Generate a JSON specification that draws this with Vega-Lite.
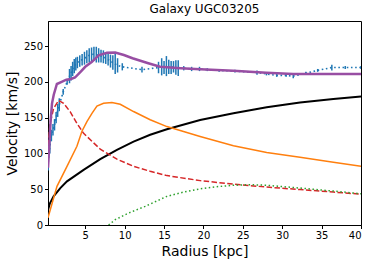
{
  "$schema": "https://vega.github.io/schema/vega-lite/v6.json",
  "width": 313,
  "height": 204,
  "autosize": {"type": "none"},
  "padding": {"left": 48, "top": 21, "right": 13, "bottom": 39},
  "background": "white",
  "title": {"text": "Galaxy UGC03205", "font": "DejaVu Sans", "fontSize": 12, "fontWeight": "normal", "color": "black", "offset": 5},
  "config": {
    "view": {"stroke": "black", "strokeWidth": 1},
    "axis": {
      "labelFont": "DejaVu Sans", "labelFontSize": 10, "labelColor": "black",
      "titleFont": "DejaVu Sans", "titleFontSize": 14, "titleFontWeight": "normal", "titleColor": "black",
      "tickColor": "black", "domainColor": "black", "grid": false, "tickSize": 3.5, "labelPadding": 2
    }
  },
  "datasets": {
    "obs": [
      {"r": 0.3, "v": 88, "e": 12}, {"r": 0.5, "v": 110, "e": 10}, {"r": 0.7, "v": 125, "e": 8},
      {"r": 0.9, "v": 133, "e": 8}, {"r": 1.1, "v": 140, "e": 8}, {"r": 1.3, "v": 150, "e": 8},
      {"r": 1.5, "v": 160, "e": 9}, {"r": 1.7, "v": 168, "e": 9}, {"r": 2.2, "v": 186, "e": 4},
      {"r": 2.7, "v": 200, "e": 4}, {"r": 3.0, "v": 208, "e": 10}, {"r": 3.2, "v": 212, "e": 10},
      {"r": 3.4, "v": 218, "e": 10}, {"r": 3.6, "v": 222, "e": 10}, {"r": 3.8, "v": 225, "e": 9},
      {"r": 4.0, "v": 227, "e": 8}, {"r": 4.3, "v": 229, "e": 8}, {"r": 4.6, "v": 231, "e": 8},
      {"r": 4.9, "v": 233, "e": 9}, {"r": 5.2, "v": 235, "e": 9}, {"r": 5.5, "v": 237, "e": 10},
      {"r": 5.8, "v": 238, "e": 10}, {"r": 6.1, "v": 239, "e": 10}, {"r": 6.4, "v": 238, "e": 11},
      {"r": 6.7, "v": 237, "e": 10}, {"r": 7.0, "v": 236, "e": 9}, {"r": 7.3, "v": 235, "e": 9},
      {"r": 7.6, "v": 233, "e": 8}, {"r": 7.9, "v": 231, "e": 8}, {"r": 8.2, "v": 229, "e": 9},
      {"r": 8.5, "v": 227, "e": 10}, {"r": 8.8, "v": 225, "e": 14}, {"r": 9.1, "v": 223, "e": 10},
      {"r": 9.7, "v": 221, "e": 5}, {"r": 12.2, "v": 217, "e": 4}, {"r": 14.3, "v": 220, "e": 8},
      {"r": 14.7, "v": 221, "e": 12}, {"r": 15.0, "v": 220, "e": 9}, {"r": 15.3, "v": 222, "e": 14},
      {"r": 15.6, "v": 221, "e": 10}, {"r": 15.9, "v": 220, "e": 9}, {"r": 16.2, "v": 221, "e": 8},
      {"r": 16.5, "v": 220, "e": 10}, {"r": 16.8, "v": 219, "e": 11}, {"r": 17.5, "v": 219, "e": 3},
      {"r": 18.5, "v": 218, "e": 3}, {"r": 19.5, "v": 218, "e": 3}, {"r": 20.5, "v": 217, "e": 2},
      {"r": 22, "v": 216, "e": 2}, {"r": 24, "v": 215, "e": 2}, {"r": 26.8, "v": 213, "e": 3},
      {"r": 28, "v": 211, "e": 2}, {"r": 29.3, "v": 209, "e": 2}, {"r": 30.5, "v": 209, "e": 2},
      {"r": 31.4, "v": 208, "e": 3}, {"r": 33, "v": 212, "e": 2}, {"r": 34.5, "v": 216, "e": 2},
      {"r": 36.3, "v": 220, "e": 4}, {"r": 38, "v": 220, "e": 2}, {"r": 40, "v": 220, "e": 2}
    ],
    "curves": [
      {"c": "total", "r": 0.27, "v": 80}, {"c": "total", "r": 0.43, "v": 110}, {"c": "total", "r": 0.6, "v": 145},
      {"c": "total", "r": 0.78, "v": 170}, {"c": "total", "r": 1.0, "v": 182}, {"c": "total", "r": 1.4, "v": 197},
      {"c": "total", "r": 2.0, "v": 200}, {"c": "total", "r": 2.6, "v": 203}, {"c": "total", "r": 3.2, "v": 204},
      {"c": "total", "r": 3.7, "v": 206}, {"c": "total", "r": 4.4, "v": 214}, {"c": "total", "r": 5.0, "v": 221},
      {"c": "total", "r": 5.85, "v": 228}, {"c": "total", "r": 6.7, "v": 237}, {"c": "total", "r": 7.75, "v": 240.5},
      {"c": "total", "r": 8.8, "v": 241}, {"c": "total", "r": 9.9, "v": 237.5}, {"c": "total", "r": 11, "v": 233},
      {"c": "total", "r": 12, "v": 229.5}, {"c": "total", "r": 13, "v": 226}, {"c": "total", "r": 14.5, "v": 221},
      {"c": "total", "r": 17.1, "v": 219}, {"c": "total", "r": 19.6, "v": 217.5}, {"c": "total", "r": 23.8, "v": 215.6},
      {"c": "total", "r": 28, "v": 212.8}, {"c": "total", "r": 31.4, "v": 211}, {"c": "total", "r": 36.5, "v": 211},
      {"c": "total", "r": 40, "v": 211},
      {"c": "bulge", "r": 0.27, "v": 100}, {"c": "bulge", "r": 0.5, "v": 140}, {"c": "bulge", "r": 0.98, "v": 163},
      {"c": "bulge", "r": 1.62, "v": 174}, {"c": "bulge", "r": 2.25, "v": 170}, {"c": "bulge", "r": 3.1, "v": 158},
      {"c": "bulge", "r": 3.94, "v": 142}, {"c": "bulge", "r": 4.79, "v": 128}, {"c": "bulge", "r": 5.85, "v": 117},
      {"c": "bulge", "r": 6.9, "v": 106}, {"c": "bulge", "r": 9.02, "v": 92}, {"c": "bulge", "r": 11.13, "v": 82},
      {"c": "bulge", "r": 13.24, "v": 75}, {"c": "bulge", "r": 15.36, "v": 69}, {"c": "bulge", "r": 19.58, "v": 62},
      {"c": "bulge", "r": 23.81, "v": 57}, {"c": "bulge", "r": 28.03, "v": 53}, {"c": "bulge", "r": 32.26, "v": 49.5},
      {"c": "bulge", "r": 36.49, "v": 46}, {"c": "bulge", "r": 40, "v": 43},
      {"c": "disk", "r": 0.27, "v": 10}, {"c": "disk", "r": 1.41, "v": 54}, {"c": "disk", "r": 2.68, "v": 82},
      {"c": "disk", "r": 3.94, "v": 110}, {"c": "disk", "r": 4.58, "v": 131}, {"c": "disk", "r": 5.21, "v": 144.5},
      {"c": "disk", "r": 5.85, "v": 156}, {"c": "disk", "r": 6.48, "v": 166}, {"c": "disk", "r": 7.32, "v": 170},
      {"c": "disk", "r": 8.38, "v": 171}, {"c": "disk", "r": 9.44, "v": 168.7}, {"c": "disk", "r": 11.13, "v": 158.5},
      {"c": "disk", "r": 13.24, "v": 147}, {"c": "disk", "r": 15.36, "v": 137.5}, {"c": "disk", "r": 17.47, "v": 130.6},
      {"c": "disk", "r": 19.58, "v": 123.6}, {"c": "disk", "r": 23.81, "v": 110.6}, {"c": "disk", "r": 28.03, "v": 101.3},
      {"c": "disk", "r": 32.26, "v": 94.8}, {"c": "disk", "r": 36.49, "v": 87.8}, {"c": "disk", "r": 40, "v": 82},
      {"c": "halo", "r": 0.27, "v": 21}, {"c": "halo", "r": 0.5, "v": 30}, {"c": "halo", "r": 0.98, "v": 40},
      {"c": "halo", "r": 1.83, "v": 51.6}, {"c": "halo", "r": 2.68, "v": 61}, {"c": "halo", "r": 4.79, "v": 77},
      {"c": "halo", "r": 6.9, "v": 92}, {"c": "halo", "r": 9.02, "v": 105}, {"c": "halo", "r": 11.13, "v": 116.6},
      {"c": "halo", "r": 13.24, "v": 126}, {"c": "halo", "r": 15.36, "v": 133.8}, {"c": "halo", "r": 19.58, "v": 146.8},
      {"c": "halo", "r": 23.81, "v": 156}, {"c": "halo", "r": 28.03, "v": 164.5}, {"c": "halo", "r": 32.26, "v": 171},
      {"c": "halo", "r": 36.49, "v": 176}, {"c": "halo", "r": 40, "v": 179.4},
      {"c": "gas", "r": 7.96, "v": 0}, {"c": "gas", "r": 8.8, "v": 7.4}, {"c": "gas", "r": 10.5, "v": 16.7},
      {"c": "gas", "r": 12.6, "v": 26}, {"c": "gas", "r": 15.36, "v": 40}, {"c": "gas", "r": 17.47, "v": 46},
      {"c": "gas", "r": 19.58, "v": 50.5}, {"c": "gas", "r": 21.7, "v": 53.5}, {"c": "gas", "r": 23.81, "v": 55.5},
      {"c": "gas", "r": 26, "v": 56.3}, {"c": "gas", "r": 28.03, "v": 55.5}, {"c": "gas", "r": 32.26, "v": 51.6},
      {"c": "gas", "r": 36.49, "v": 47.4}, {"c": "gas", "r": 40, "v": 43.7}
    ]
  },
  "encoding": {
    "x": {"field": "r", "type": "quantitative", "title": "Radius [kpc]",
          "scale": {"domain": [0.27, 40], "nice": false, "zero": false},
          "axis": {"values": [5, 10, 15, 20, 25, 30, 35, 40], "titlePadding": 4}},
    "y": {"field": "v", "type": "quantitative", "title": "Velocity [km/s]",
          "scale": {"domain": [0, 285], "nice": false},
          "axis": {"values": [0, 50, 100, 150, 200, 250], "titlePadding": 4}}
  },
  "layer": [
    {"data": {"name": "obs"},
     "mark": {"type": "errorbar", "color": "#1f77b4", "thickness": 1.5, "clip": true},
     "encoding": {"yError": {"field": "e"}}},
    {"data": {"name": "obs"},
     "mark": {"type": "line", "color": "#1f77b4", "strokeWidth": 1.6, "strokeDash": [1.6, 2.6], "clip": true}},
    {"data": {"name": "curves"}, "transform": [{"filter": "datum.c === 'halo'"}],
     "mark": {"type": "line", "color": "black", "strokeWidth": 2, "clip": true}},
    {"data": {"name": "curves"}, "transform": [{"filter": "datum.c === 'disk'"}],
     "mark": {"type": "line", "color": "#ff7f0e", "strokeWidth": 1.5, "clip": true}},
    {"data": {"name": "curves"}, "transform": [{"filter": "datum.c === 'bulge'"}],
     "mark": {"type": "line", "color": "#d62728", "strokeWidth": 1.5, "strokeDash": [5.5, 2.4], "clip": true}},
    {"data": {"name": "curves"}, "transform": [{"filter": "datum.c === 'gas'"}],
     "mark": {"type": "line", "color": "#2ca02c", "strokeWidth": 1.5, "strokeDash": [1.5, 2.5], "clip": true}},
    {"data": {"name": "curves"}, "transform": [{"filter": "datum.c === 'total'"}],
     "mark": {"type": "line", "color": "#984ea3", "strokeWidth": 2.5, "clip": true}}
  ]
}
